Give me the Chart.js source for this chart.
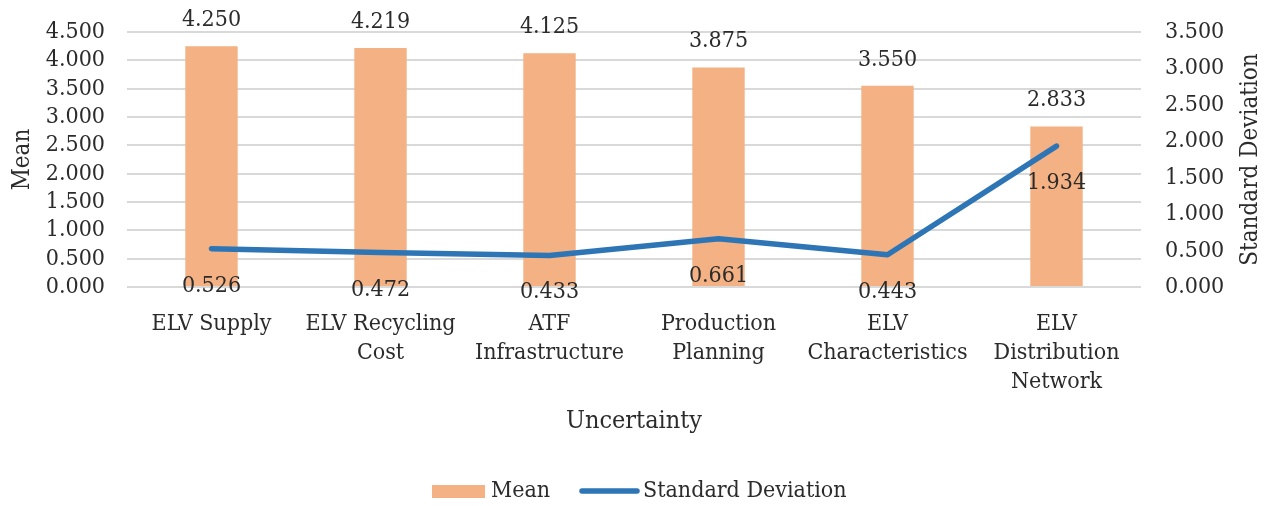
<!DOCTYPE html>
<html>
<head>
<meta charset="utf-8">
<script src="https://cdn.jsdelivr.net/npm/chart.js@4/dist/chart.umd.min.js"></script>
<style>
  html, body { margin: 0; padding: 0; background: #ffffff; }
  #wrap { width: 1271px; height: 506px; }
</style>
</head>
<body>
<div id="wrap"><canvas id="chart" width="1271" height="506"></canvas></div>
<script>
// Uncertainty factors and their survey statistics
const categories = [
  ["ELV Supply"],
  ["ELV Recycling", "Cost"],
  ["ATF", "Infrastructure"],
  ["Production", "Planning"],
  ["ELV", "Characteristics"],
  ["ELV", "Distribution", "Network"]
];
const meanValues = [4.250, 4.219, 4.125, 3.875, 3.550, 2.833];
const stdDevValues = [0.526, 0.472, 0.433, 0.661, 0.443, 1.934];

const meanTicks = { min: 0, max: 4.5, step: 0.5 };
const stdTicks = { min: 0, max: 3.5, step: 0.5 };

const FONT = "'DejaVu Serif Condensed', 'DejaVu Serif', serif";
const TEXT = '#2b2b2b';
const BAR_COLOR = '#F4B183';
const LINE_COLOR = '#2E75B6';

// Fixed plot box: 127..1141 horizontally, 32..287 vertically
const PLOT = { left: 127, right: 1141, top: 32, bottom: 287 };
const W = 1271, H = 506, LEGEND_H = 60;

// Value labels: above bars, below line points
const valueLabels = {
  id: 'valueLabels',
  afterDatasetsDraw(chart) {
    const ctx = chart.ctx;
    ctx.save();
    ctx.font = '23px ' + FONT;
    ctx.fillStyle = TEXT;
    ctx.textAlign = 'center';
    ctx.textBaseline = 'middle';
    chart.getDatasetMeta(0).data.forEach((el, i) => {
      ctx.fillText(meanValues[i].toFixed(3), el.x, el.y - 26);
    });
    chart.getDatasetMeta(1).data.forEach((el, i) => {
      ctx.fillText(stdDevValues[i].toFixed(3), el.x, el.y + 37);
    });
    ctx.restore();
  }
};

// Right axis title (reads bottom to top) and the legend row
const extras = {
  id: 'extras',
  afterDraw(chart) {
    const ctx = chart.ctx;
    const area = chart.chartArea;
    ctx.save();
    ctx.fillStyle = TEXT;
    ctx.font = '24px ' + FONT;
    ctx.textAlign = 'center';
    ctx.textBaseline = 'middle';
    ctx.translate(1251, (area.top + area.bottom) / 2);
    ctx.rotate(-Math.PI / 2);
    ctx.fillText('Standard Deviation', 0, 0);
    ctx.restore();

    ctx.save();
    const ly = 491;
    ctx.font = '23px ' + FONT;
    ctx.textBaseline = 'middle';
    ctx.textAlign = 'left';
    ctx.fillStyle = BAR_COLOR;
    ctx.fillRect(432, ly - 6, 53, 13);
    ctx.fillStyle = TEXT;
    ctx.fillText(chart.data.datasets[0].label, 491, ly);
    ctx.strokeStyle = LINE_COLOR;
    ctx.lineWidth = 5.5;
    ctx.lineCap = 'round';
    ctx.beginPath();
    ctx.moveTo(582, ly);
    ctx.lineTo(637, ly);
    ctx.stroke();
    ctx.fillText(chart.data.datasets[1].label, 643, ly);
    ctx.restore();
  }
};

function noEdgePadding(scale) {
  scale.paddingTop = 0;
  scale.paddingBottom = 0;
  scale.paddingLeft = 0;
  scale.paddingRight = 0;
}

new Chart(document.getElementById('chart'), {
  type: 'bar',
  data: {
    labels: categories,
    datasets: [
      {
        type: 'bar',
        label: 'Mean',
        data: meanValues,
        yAxisID: 'y',
        backgroundColor: BAR_COLOR,
        categoryPercentage: 1,
        barPercentage: 0.31,
        order: 1
      },
      {
        type: 'line',
        label: 'Standard Deviation',
        data: stdDevValues,
        yAxisID: 'y1',
        borderColor: LINE_COLOR,
        backgroundColor: LINE_COLOR,
        borderWidth: 5.5,
        pointRadius: 0,
        tension: 0,
        borderCapStyle: 'round',
        borderJoinStyle: 'round',
        order: 0
      }
    ]
  },
  options: {
    responsive: false,
    animation: false,
    layout: { padding: { top: PLOT.top, bottom: LEGEND_H, left: 0, right: 0 } },
    plugins: {
      legend: { display: false },
      tooltip: { enabled: false }
    },
    scales: {
      x: {
        grid: { display: false },
        border: { display: false },
        ticks: {
          color: TEXT,
          font: { family: FONT, size: 23, lineHeight: 1.25 },
          padding: 15,
          maxRotation: 0,
          autoSkip: false
        },
        title: {
          display: true,
          text: 'Uncertainty',
          color: TEXT,
          font: { family: FONT, size: 25 },
          padding: { top: 0, bottom: 10 }
        },
        afterFit(scale) { scale.height = H - LEGEND_H - PLOT.bottom; noEdgePadding(scale); }
      },
      y: {
        position: 'left',
        min: meanTicks.min,
        max: meanTicks.max,
        grid: { color: '#D9D9D9', lineWidth: 2, drawTicks: false },
        border: { display: false },
        ticks: {
          stepSize: meanTicks.step,
          autoSkip: false,
          color: TEXT,
          font: { family: FONT, size: 23, lineHeight: 1 },
          padding: 22,
          callback: v => Number(v).toFixed(3)
        },
        title: {
          display: true,
          text: 'Mean',
          color: TEXT,
          font: { family: FONT, size: 24 },
          padding: { top: 8, bottom: 0 }
        },
        afterFit(scale) { scale.width = PLOT.left; noEdgePadding(scale); }
      },
      y1: {
        position: 'right',
        min: stdTicks.min,
        max: stdTicks.max,
        grid: { display: false, drawTicks: false },
        border: { display: false },
        ticks: {
          stepSize: stdTicks.step,
          autoSkip: false,
          color: TEXT,
          font: { family: FONT, size: 23, lineHeight: 1 },
          padding: 24,
          callback: v => Number(v).toFixed(3)
        },
        afterFit(scale) { scale.width = W - PLOT.right; noEdgePadding(scale); }
      }
    }
  },
  plugins: [valueLabels, extras]
});
</script>
</body>
</html>
